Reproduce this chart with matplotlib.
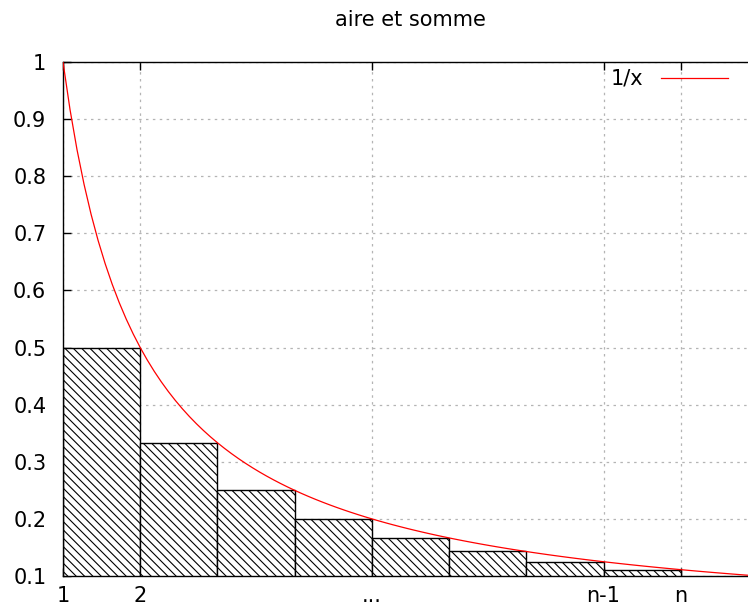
import numpy as np
import matplotlib
matplotlib.use("Agg")
import matplotlib.pyplot as plt

# bar lower-left x and heights (height of bar on [k, k+1] is 1/(k+1))
bar_left = [1, 2, 3, 4, 5, 6, 7, 8]
bar_height = [0.5, 0.3333, 0.25, 0.2, 0.1667, 0.1429, 0.125, 0.1111]

x_ticks = [1, 2, 5, 8, 9]
x_labels = ["1", "2", "...", "n-1", "n"]
y_ticks = [0.1, 0.2, 0.3, 0.4, 0.5, 0.6, 0.7, 0.8, 0.9, 1.0]
y_labels = ["0.1", "0.2", "0.3", "0.4", "0.5", "0.6", "0.7", "0.8", "0.9", "1"]

# the plotted function, sampled like gnuplot (100 samples)
xs = np.linspace(1, 10, 100)
ys = 1.0 / xs

plt.rcParams["hatch.linewidth"] = 0.8
plt.rcParams["font.family"] = "DejaVu Sans"
FS = 15

fig = plt.figure(figsize=(7.48, 6.08), dpi=100)
# the right part of the gnuplot frame is cut off in the reference, so the axes go past the edge
ax = fig.add_axes([63 / 748, 32 / 608, 695 / 748, 514 / 608])

ax.bar(bar_left, bar_height, width=1, align="edge", bottom=0,
       facecolor="white", edgecolor="black", linewidth=1.0,
       hatch="\\\\\\\\", zorder=2)
ax.plot(xs, ys, color="#ff0000", lw=0.9, label="1/x", zorder=3)

ax.set_xlim(1, 10)
ax.set_ylim(0.1, 1.0)
ax.set_xticks(x_ticks)
ax.set_xticklabels(x_labels)
ax.set_yticks(y_ticks)
ax.set_yticklabels(y_labels)

ax.tick_params(direction="in", length=6, width=1, top=True, right=True,
               labelsize=FS, colors="black")
ax.tick_params(axis="y", pad=12)
ax.tick_params(axis="x", pad=7.5)
for s in ax.spines.values():
    s.set_linewidth(1.0)

ax.grid(True, color="#b4b4b4", lw=0.9, ls=(0, (2, 3.5)), zorder=1)
ax.set_axisbelow(True)

ax.set_title("aire et somme", fontsize=FS, pad=26)

fig.legend(loc="upper right", bbox_to_anchor=(728 / 748, 1 - 69 / 608),
           frameon=False, markerfirst=False, fontsize=FS,
           handlelength=3.2, handletextpad=0.85, borderpad=0, borderaxespad=0)

fig.savefig("out.png", dpi=100)
